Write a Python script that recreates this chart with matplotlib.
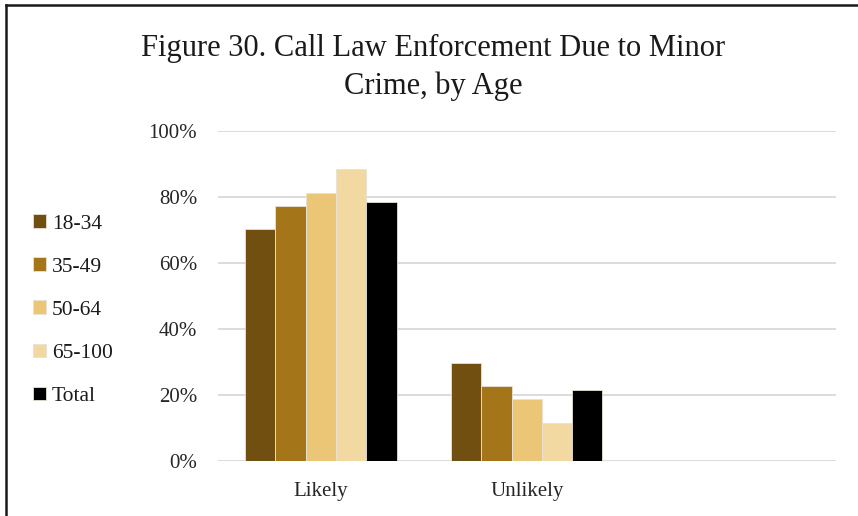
import matplotlib.pyplot as plt
import numpy as np
from matplotlib.lines import Line2D

categories = ['Likely', 'Unlikely', '']
groups = ['18-34', '35-49', '50-64', '65-100', 'Total']
values = {
    '18-34': [70.2, 29.5],
    '35-49': [77.2, 22.6],
    '50-64': [81.0, 18.8],
    '65-100': [88.3, 11.5],
    'Total': [78.3, 21.4],
}
colors = ['#714f11', '#a57519', '#ecc677', '#f2d9a2', '#000000']
yticks = [0, 20, 40, 60, 80, 100]

plt.rcParams['font.family'] = ['Liberation Serif', 'DejaVu Serif']

fig = plt.figure(figsize=(8.58, 5.16), dpi=100)
ax = fig.add_axes([0.254, 0.107, 0.720, 0.640])

n = len(groups)
bw = 0.735 / n
x = np.arange(len(categories))
for i, g in enumerate(groups):
    xs = x[:len(values[g])] + (i - (n - 1) / 2) * bw
    ax.bar(xs, values[g], width=bw, color=colors[i], edgecolor='#e8e2d4',
           linewidth=0.6, label=g, zorder=3)

ax.set_xlim(-0.5, 2.5)
ax.set_ylim(0, 100)
ax.set_yticks(yticks)
ax.set_yticklabels(['%d%%' % v for v in yticks], fontsize=15, color='#262626')
ax.set_xticks(x[:2])
ax.set_xticklabels(categories[:2], fontsize=15, color='#262626')
ax.tick_params(length=0)
ax.tick_params(axis='x', pad=15)
ax.tick_params(axis='y', pad=15)
ax.grid(axis='y', color='#d9d9d9', linewidth=1.3, zorder=0)
for s in ax.spines.values():
    s.set_visible(False)

fig.text(0.505, 0.805, 'Figure 30. Call Law Enforcement Due to Minor\nCrime, by Age',
         ha='center', va='bottom', fontsize=22, color='#1a1a1a', linespacing=1.38)

leg = fig.legend(loc='center left', bbox_to_anchor=(0.029, 0.399), frameon=False,
                 fontsize=15.5, handlelength=0.6, handleheight=0.6, handletextpad=0.25,
                 labelspacing=1.1, labelcolor='#1a1a1a', borderaxespad=0)

# chart border (only top and left edges are visible in the crop)
fig.add_artist(Line2D([6 / 858, 6 / 858], [0, 1 - 5 / 516], transform=fig.transFigure,
                      color='#1a1a1a', linewidth=1.8))
fig.add_artist(Line2D([6 / 858, 1], [1 - 5 / 516, 1 - 5 / 516], transform=fig.transFigure,
                      color='#1a1a1a', linewidth=1.8))

fig.savefig('out.png', dpi=100)
